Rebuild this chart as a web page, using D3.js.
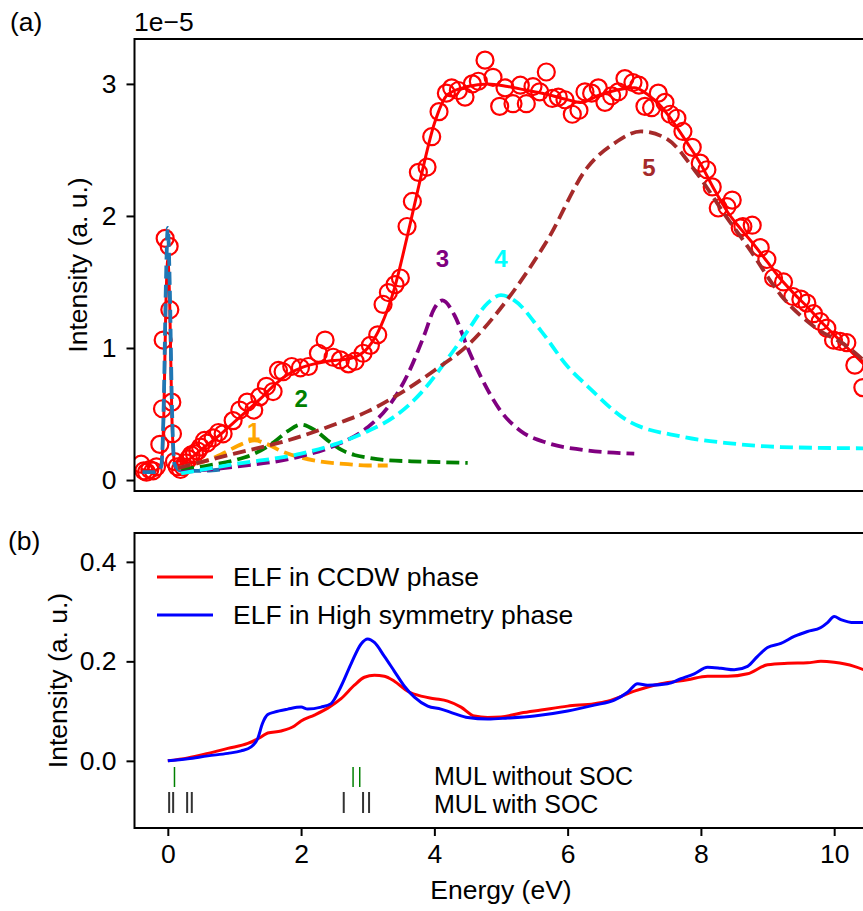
<!DOCTYPE html>
<html>
<head>
<meta charset="utf-8">
<script src="https://cdn.jsdelivr.net/npm/d3@7"></script>
<style>
  body { margin: 0; background: #fff; }
  svg { font-family: "Liberation Sans", Arial, sans-serif; }
</style>
</head>
<body>
<div id="chart"></div>
<script>
// ---- panel (a): measured EELS spectrum, fit and components (units of 1e-5) ----
const expE = [-0.40,-0.36,-0.32,-0.27,-0.22,-0.17,-0.12,-0.08,-0.07,-0.04,0.02,0.03,0.06,0.07,0.10,0.14,0.19,0.23,0.27,0.31,0.35,0.40,0.45,0.49,0.55,0.59,0.68,0.76,0.83,0.98,1.08,1.19,1.29,1.38,1.48,1.58,1.66,1.73,1.86,1.99,2.11,2.26,2.36,2.48,2.59,2.71,2.81,2.93,3.04,3.15,3.23,3.31,3.41,3.49,3.59,3.67,3.76,3.89,3.96,4.07,4.18,4.26,4.36,4.46,4.57,4.66,4.76,4.88,4.98,5.06,5.18,5.29,5.38,5.48,5.58,5.68,5.77,5.86,5.96,6.07,6.17,6.26,6.36,6.46,6.56,6.66,6.76,6.86,6.98,7.07,7.16,7.26,7.36,7.46,7.54,7.64,7.73,7.87,7.99,8.09,8.17,8.26,8.39,8.47,8.59,8.63,8.77,8.89,8.99,9.09,9.24,9.38,9.50,9.59,9.69,9.79,9.89,9.99,10.09,10.19,10.31,10.43];
const expI = [0.12,0.07,0.06,0.08,0.07,0.10,0.27,0.54,1.06,1.83,1.77,1.29,0.59,0.35,0.14,0.10,0.08,0.10,0.13,0.16,0.19,0.20,0.22,0.25,0.30,0.28,0.32,0.36,0.35,0.45,0.53,0.59,0.53,0.63,0.71,0.67,0.83,0.82,0.86,0.85,0.86,0.96,1.06,0.93,0.91,0.88,0.90,0.96,1.02,1.10,1.33,1.42,1.48,1.53,1.92,2.11,2.33,2.37,2.60,2.79,2.93,2.97,2.95,2.90,3.00,3.02,3.18,3.05,2.83,2.97,2.85,2.99,2.85,2.98,2.94,3.09,2.89,2.90,2.88,2.77,2.80,2.94,2.93,2.97,2.86,2.91,2.94,3.04,3.01,2.99,2.83,2.82,2.93,2.86,2.77,2.74,2.64,2.52,2.40,2.35,2.22,2.06,2.07,2.12,1.91,1.92,1.93,1.76,1.67,1.53,1.50,1.39,1.37,1.34,1.26,1.20,1.15,1.06,1.05,1.04,0.87,0.70];

const fitE = [-0.40,-0.20,-0.10,-0.06,-0.03,0.00,0.03,0.06,0.10,0.15,0.30,0.50,0.80,1.00,1.20,1.40,1.60,1.80,2.00,2.20,2.40,2.60,2.80,3.00,3.20,3.40,3.60,3.80,4.00,4.20,4.50,4.80,5.10,5.40,5.70,6.00,6.20,6.50,6.80,7.00,7.20,7.40,7.60,7.80,8.00,8.20,8.40,8.60,8.80,9.00,9.20,9.40,9.60,9.80,10.00,10.20,10.50];
const fitI = [0.08,0.07,0.12,0.50,1.30,1.67,1.30,0.50,0.14,0.11,0.15,0.23,0.35,0.44,0.53,0.62,0.72,0.80,0.85,0.88,0.90,0.91,0.93,1.00,1.17,1.45,1.86,2.30,2.70,2.92,2.98,3.00,2.98,2.95,2.92,2.88,2.86,2.92,2.96,2.97,2.92,2.83,2.70,2.55,2.39,2.20,2.03,1.90,1.78,1.65,1.52,1.41,1.31,1.20,1.10,1.00,0.85];

const zlpE = [-0.38,-0.20,-0.10,-0.06,-0.03,0.00,0.03,0.06,0.10,0.20,0.50,0.80];
const zlpI = [0.06,0.06,0.10,0.60,1.45,1.91,1.45,0.60,0.12,0.07,0.07,0.08];

const p1E = [0.15,0.40,0.70,0.90,1.10,1.30,1.50,1.70,2.00,2.30,2.70,3.00,3.30];
const p1I = [0.09,0.12,0.17,0.22,0.27,0.30,0.27,0.22,0.17,0.14,0.12,0.11,0.11];
const p2E = [0.20,0.60,1.00,1.30,1.60,1.80,2.00,2.20,2.40,2.60,2.80,3.00,3.30,3.80,4.50];
const p2I = [0.08,0.11,0.15,0.20,0.29,0.37,0.42,0.38,0.30,0.23,0.19,0.17,0.15,0.14,0.13];
const p3E = [0.20,1.00,2.00,2.50,3.00,3.30,3.60,3.85,4.00,4.12,4.30,4.50,4.70,5.00,5.30,5.70,6.20,7.00];
const p3I = [0.06,0.10,0.18,0.26,0.40,0.55,0.80,1.10,1.30,1.36,1.25,1.00,0.78,0.52,0.37,0.28,0.23,0.20];
const p4E = [0.20,1.00,2.00,2.50,3.00,3.40,3.80,4.20,4.50,4.80,5.00,5.20,5.60,6.00,6.30,6.90,7.70,8.40,9.20,10.50];
const p4I = [0.05,0.12,0.20,0.27,0.37,0.48,0.66,0.92,1.13,1.34,1.40,1.36,1.13,0.86,0.71,0.45,0.33,0.28,0.25,0.24];
const p5E = [0.15,1.00,1.80,2.50,3.00,3.50,4.00,4.50,5.10,5.70,6.30,6.70,7.10,7.50,7.90,8.40,8.70,9.20,9.70,10.20,10.50];
const p5I = [0.09,0.20,0.30,0.42,0.52,0.66,0.83,1.02,1.37,1.82,2.37,2.55,2.64,2.58,2.35,1.98,1.77,1.40,1.16,1.01,0.88];

const peakNames = ["1", "2", "3", "4", "5"];
const peakColors = ["orange", "green", "purple", "cyan", "brown"];
const peakLabelE = [1.29, 2.0, 4.12, 5.0, 7.22];
const peakLabelI = [0.30, 0.55, 1.61, 1.61, 2.30];

// ---- panel (b): calculated ELF ----
const elfE1 = [0,0.3,0.6,0.9,1.2,1.4,1.5,1.7,1.9,2.0,2.2,2.4,2.6,2.8,2.95,3.1,3.25,3.4,3.6,3.8,4.0,4.2,4.4,4.6,4.8,5.0,5.3,5.6,6.0,6.4,6.6,7.0,7.4,7.8,8.1,8.4,8.7,9.0,9.3,9.6,9.8,10.0,10.3,10.5];
const elfCCDW = [0,0.006,0.015,0.025,0.035,0.048,0.056,0.06,0.07,0.08,0.092,0.106,0.125,0.152,0.168,0.172,0.17,0.16,0.14,0.13,0.125,0.12,0.108,0.09,0.087,0.088,0.096,0.102,0.11,0.115,0.12,0.14,0.155,0.163,0.17,0.17,0.175,0.193,0.196,0.197,0.2,0.198,0.19,0.18];
const elfE2 = [0,0.3,0.6,0.9,1.1,1.25,1.35,1.42,1.5,1.6,1.8,2.0,2.1,2.3,2.45,2.6,2.75,2.9,3.0,3.1,3.25,3.4,3.55,3.7,3.9,4.1,4.3,4.5,4.8,5.1,5.5,6.0,6.4,6.7,6.9,7.05,7.2,7.5,7.7,7.9,8.1,8.3,8.5,8.7,8.85,9.0,9.2,9.4,9.6,9.8,9.9,10.0,10.1,10.3,10.5];
const elfHigh = [0,0.004,0.01,0.015,0.02,0.028,0.045,0.075,0.093,0.098,0.104,0.108,0.104,0.108,0.115,0.15,0.195,0.235,0.245,0.238,0.21,0.18,0.15,0.128,0.11,0.104,0.095,0.087,0.084,0.086,0.09,0.1,0.112,0.122,0.138,0.155,0.152,0.155,0.165,0.175,0.188,0.186,0.183,0.19,0.21,0.228,0.236,0.25,0.26,0.268,0.278,0.29,0.284,0.278,0.278];
const legendNames = ["ELF in CCDW phase", "ELF in High symmetry phase"];

const mulNoSOC = [0.10, 2.78, 2.88];
const mulSOC = [0.02, 0.08, 0.29, 0.36, 2.64, 2.93, 3.02];
const mulNames = ["MUL without SOC", "MUL with SOC"];

// ---- layout ----
const W = 863, H = 911;
const left = 134.5, right = 867.5;
const aTop = 39, aBot = 491, bTop = 533, bBot = 828;
const FS = 26.5;

const svg = d3.select("#chart").append("svg").attr("width", W).attr("height", H);

const x = d3.scaleLinear().domain([-0.5, 10.5]).range([left, right]);
const ya = d3.scaleLinear().domain([-0.083, 3.34]).range([aBot, aTop]);
const yb = d3.scaleLinear().domain([-0.135, 0.458]).range([bBot, bTop]);

const defs = svg.append("defs");
defs.append("clipPath").attr("id", "clipA").append("rect")
  .attr("x", left).attr("y", aTop).attr("width", right - left).attr("height", aBot - aTop);
defs.append("clipPath").attr("id", "clipB").append("rect")
  .attr("x", left).attr("y", bTop).attr("width", right - left).attr("height", bBot - bTop);

function zip(a, b) { return a.map((v, i) => [v, b[i]]); }

// ---------- panel (a) ----------
const ga = svg.append("g").attr("clip-path", "url(#clipA)");
const lineA = d3.line().x(d => x(d[0])).y(d => ya(d[1])).curve(d3.curveMonotoneX);

ga.selectAll("circle.exp")
  .data(zip(expE, expI))
  .join("circle")
  .attr("class", "exp")
  .attr("cx", d => x(d[0]))
  .attr("cy", d => ya(d[1]))
  .attr("r", 8.5)
  .attr("fill", "none")
  .attr("stroke", "#ff0000")
  .attr("stroke-width", 2.2);

ga.append("path")
  .datum(zip(fitE, fitI))
  .attr("d", lineA)
  .attr("fill", "none")
  .attr("stroke", "#ff0000")
  .attr("stroke-width", 3);

ga.append("path")
  .datum(zip(zlpE, zlpI))
  .attr("d", lineA)
  .attr("fill", "none")
  .attr("stroke", "#1f77b4")
  .attr("stroke-width", 3.8)
  .attr("stroke-dasharray", "13,6");

const peaks = [zip(p1E, p1I), zip(p2E, p2I), zip(p3E, p3I), zip(p4E, p4I), zip(p5E, p5I)];
ga.selectAll("path.peak")
  .data(peaks)
  .join("path")
  .attr("class", "peak")
  .attr("d", lineA)
  .attr("fill", "none")
  .attr("stroke", (d, i) => peakColors[i])
  .attr("stroke-width", 3.8)
  .attr("stroke-dasharray", "13,6");

svg.selectAll("text.plabel")
  .data(peakNames)
  .join("text")
  .attr("class", "plabel")
  .attr("x", (d, i) => x(peakLabelE[i]))
  .attr("y", (d, i) => ya(peakLabelI[i]))
  .attr("text-anchor", "middle")
  .attr("font-size", 24)
  .attr("font-weight", "bold")
  .attr("fill", (d, i) => peakColors[i])
  .text(d => d);

// frame + y axis (a)
svg.append("rect")
  .attr("x", left).attr("y", aTop).attr("width", right - left).attr("height", aBot - aTop)
  .attr("fill", "none").attr("stroke", "#000").attr("stroke-width", 2);

const axA = svg.append("g")
  .attr("transform", `translate(${left},0)`)
  .call(d3.axisLeft(ya).tickValues([0, 1, 2, 3]).tickSize(8).tickPadding(10).tickFormat(d3.format("d")));

// ---------- panel (b) ----------
const gb = svg.append("g").attr("clip-path", "url(#clipB)");
const lineB = d3.line().x(d => x(d[0])).y(d => yb(d[1])).curve(d3.curveMonotoneX);

gb.append("path")
  .datum(zip(elfE1, elfCCDW))
  .attr("d", lineB)
  .attr("fill", "none")
  .attr("stroke", "#ff0000")
  .attr("stroke-width", 3);

gb.append("path")
  .datum(zip(elfE2, elfHigh))
  .attr("d", lineB)
  .attr("fill", "none")
  .attr("stroke", "#0000ff")
  .attr("stroke-width", 3);

gb.selectAll("line.mul0")
  .data(mulNoSOC)
  .join("line")
  .attr("class", "mul0")
  .attr("x1", d => x(d)).attr("x2", d => x(d))
  .attr("y1", 767).attr("y2", 787)
  .attr("stroke", "green")
  .attr("stroke-width", 1.5);

gb.selectAll("line.mul1")
  .data(mulSOC)
  .join("line")
  .attr("class", "mul1")
  .attr("x1", d => x(d)).attr("x2", d => x(d))
  .attr("y1", 792).attr("y2", 813)
  .attr("stroke", "#333")
  .attr("stroke-width", 2);

svg.selectAll("text.mul")
  .data(mulNames)
  .join("text")
  .attr("class", "mul")
  .attr("x", 434)
  .attr("y", (d, i) => 785 + i * 28)
  .attr("font-size", 25)
  .text(d => d);

// legend
const legColors = ["#ff0000", "#0000ff"];
const leg = svg.selectAll("g.leg")
  .data(legendNames)
  .join("g")
  .attr("class", "leg")
  .attr("transform", (d, i) => `translate(157, ${577 + i * 38})`);
leg.append("line")
  .attr("x1", 0).attr("x2", 56)
  .attr("stroke", (d, i) => legColors[i])
  .attr("stroke-width", 3);
leg.append("text")
  .attr("x", 76).attr("y", 9)
  .attr("font-size", FS)
  .text(d => d);

svg.append("rect")
  .attr("x", left).attr("y", bTop).attr("width", right - left).attr("height", bBot - bTop)
  .attr("fill", "none").attr("stroke", "#000").attr("stroke-width", 2);

const axBy = svg.append("g")
  .attr("transform", `translate(${left},0)`)
  .call(d3.axisLeft(yb).tickValues([0, 0.2, 0.4]).tickSize(8).tickPadding(10).tickFormat(d3.format(".1f")));

const axBx = svg.append("g")
  .attr("transform", `translate(0,${bBot})`)
  .call(d3.axisBottom(x).tickValues([0, 2, 4, 6, 8, 10]).tickSize(8).tickPadding(8).tickFormat(d3.format("d")));

[axA, axBy, axBx].forEach(g => {
  g.select(".domain").remove();
  g.selectAll(".tick line").attr("stroke", "#000").attr("stroke-width", 2);
  g.selectAll(".tick text").attr("font-size", FS).attr("fill", "#000")
    .attr("font-family", "Liberation Sans, Arial, sans-serif");
});

// labels
svg.append("text").attr("x", 10).attr("y", 31).attr("font-size", FS).text("(a)");
svg.append("text").attr("x", 8).attr("y", 550).attr("font-size", FS).text("(b)");
svg.append("text").attr("x", 134).attr("y", 31).attr("font-size", FS).text("1e\u22125");

svg.append("text")
  .attr("transform", `translate(87, ${(aTop + aBot) / 2}) rotate(-90)`)
  .attr("text-anchor", "middle")
  .attr("font-size", FS)
  .text("Intensity (a. u.)");
svg.append("text")
  .attr("transform", `translate(67, ${(bTop + bBot) / 2}) rotate(-90)`)
  .attr("text-anchor", "middle")
  .attr("font-size", FS)
  .text("Intensity (a. u.)");
svg.append("text")
  .attr("x", (left + right) / 2).attr("y", 899)
  .attr("text-anchor", "middle")
  .attr("font-size", FS)
  .text("Energy (eV)");
</script>
</body>
</html>
